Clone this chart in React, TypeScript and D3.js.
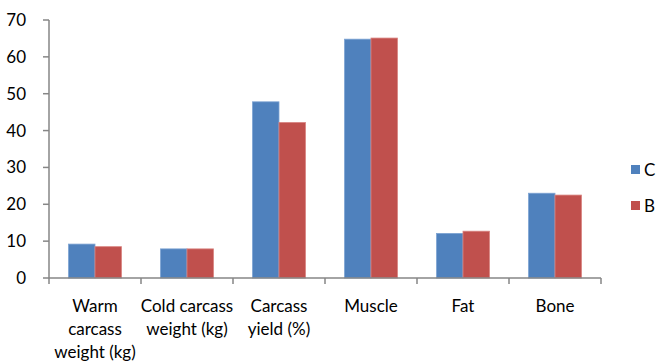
import React from "react";
import * as d3 from "d3";

const categories = [
  ["Warm", "carcass", "weight (kg)"],
  ["Cold carcass", "weight (kg)"],
  ["Carcass", "yield (%)"],
  ["Muscle"],
  ["Fat"],
  ["Bone"],
];
const seriesNames = ["C", "B"];
const valuesC = [9.2, 7.9, 47.8, 64.8, 12.1, 23.0];
const valuesB = [8.5, 7.9, 42.2, 65.1, 12.7, 22.5];
const yTicks = [0, 10, 20, 30, 40, 50, 60, 70];
const colors = ["#4F81BD", "#C0504D"];

export default function App() {
  const W = 657, H = 363;
  const x0 = 49, x1 = 601, yTop = 20, yBot = 278;
  const font = "Lato, 'Open Sans', sans-serif";
  const x = d3.scaleBand<number>().domain(d3.range(categories.length)).range([x0, x1]);
  const y = d3.scaleLinear().domain([0, 70]).range([yBot, yTop]);
  const bw = x.bandwidth();
  const barW = bw * 0.288;
  const series = [valuesC, valuesB];
  return (
    <svg width={W} height={H} style={{ position: "absolute", left: 0, top: 0 }}>
      <rect width={W} height={H} fill="#fff" />
      {/* y axis */}
      <line x1={x0} x2={x0} y1={yTop} y2={yBot} stroke="#868686" strokeWidth={1.5} />
      {yTicks.map((t) => (
        <g key={t}>
          <line x1={x0 - 6} x2={x0} y1={y(t)} y2={y(t)} stroke="#868686" strokeWidth={1.5} />
          <text x={x0 - 23} y={y(t)} dy="0.35em" textAnchor="end" fontFamily={font} fontSize={17} fill="#000">
            {t}
          </text>
        </g>
      ))}
      {/* bars */}
      {series.map((vals, si) =>
        vals.map((v, i) => {
          const cx = (x(i) as number) + bw / 2;
          const bx = cx - barW + si * barW;
          return (
            <rect
              key={si + "-" + i}
              x={bx}
              y={y(v)}
              width={barW}
              height={yBot - y(v)}
              fill={colors[si]}
              stroke={si === 0 ? "#7DA3D3" : "#D98481"}
              strokeWidth={0.8}
            />
          );
        })
      )}
      {/* x axis */}
      <line x1={x0} x2={x1} y1={yBot} y2={yBot} stroke="#868686" strokeWidth={1.5} />
      {d3.range(categories.length + 1).map((i) => {
        const tx = x0 + i * bw;
        return <line key={i} x1={tx} x2={tx} y1={yBot} y2={yBot + 6} stroke="#868686" strokeWidth={1.5} />;
      })}
      {categories.map((lines, i) => (
        <text key={i} textAnchor="middle" fontFamily={font} fontSize={17} fill="#000">
          {lines.map((l, j) => (
            <tspan key={j} x={(x(i) as number) + bw / 2} y={312 + j * 23}>
              {l}
            </tspan>
          ))}
        </text>
      ))}
      {/* legend */}
      {seriesNames.map((n, i) => (
        <g key={n}>
          <rect x={631} y={165 + i * 36} width={9} height={9} fill={colors[i]} />
          <text x={644} y={170 + i * 36} dy="0.35em" fontFamily={font} fontSize={17} fill="#000">
            {n}
          </text>
        </g>
      ))}
    </svg>
  );
}
